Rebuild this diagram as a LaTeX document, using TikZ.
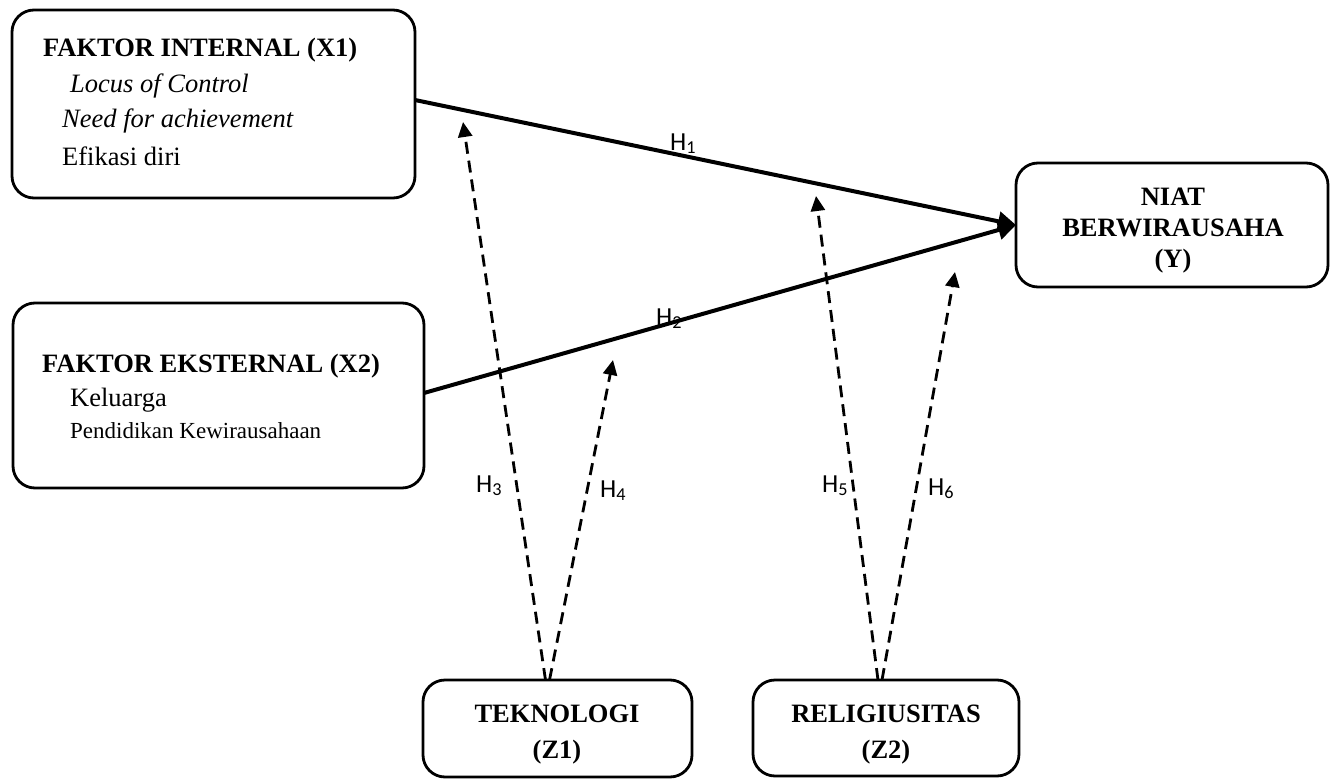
\documentclass[tikz,border=0pt]{standalone}
\usepackage{fontspec}
\setmainfont{Liberation Serif}
\newfontfamily\labfont{Carlito}
\usetikzlibrary{arrows.meta}
\tikzset{
  box/.style={draw, line width=2.8pt, rounded corners=22pt, inner sep=0pt, outer sep=0pt},
  txt/.style={inner sep=0pt, anchor=base west, font=\fontsize{26.5}{31}\selectfont},
  ctxt/.style={inner sep=0pt, anchor=base, font=\fontsize{26.5}{31}\selectfont\bfseries},
  hlab/.style={inner sep=0pt, anchor=base west, font=\labfont\fontsize{26}{30}\selectfont},
  solidarrow/.style={line width=4pt, -{Triangle[length=18pt,width=19pt]}},
  dasharrow/.style={line width=2.8pt, dash pattern=on 12pt off 7pt, -{Triangle[length=15pt,width=14pt]}}
}
\begin{document}
\begin{tikzpicture}[x=1pt,y=-1pt]
\useasboundingbox (0,0) rectangle (1331,781);
% boxes
\node[box, minimum width=403pt, minimum height=188pt] (x1) at (213.5,104) {};
\node[box, minimum width=411pt, minimum height=185pt] (x2) at (218.5,395.5) {};
\node[box, minimum width=312pt, minimum height=124pt] (y) at (1172,225) {};
\node[box, minimum width=269pt, minimum height=97pt] (z1) at (557.5,728.5) {};
\node[box, minimum width=266pt, minimum height=96pt] (z2) at (886,728) {};
% texts X1
\node[txt, font=\fontsize{26.5}{31}\selectfont\bfseries] (x1a) at (43,57) {FAKTOR INTERNAL (X1)};
\node[txt, font=\fontsize{26.5}{31}\selectfont\itshape] (x1b) at (70,93) {Locus of Control};
\node[txt, font=\fontsize{26.5}{31}\selectfont\itshape] (x1c) at (62,128) {Need for achievement};
\node[txt] (x1d) at (62,165) {Efikasi diri};
% texts X2
\node[txt, font=\fontsize{26.5}{31}\selectfont\bfseries] (x2a) at (42,372) {FAKTOR EKSTERNAL (X2)};
\node[txt] (x2b) at (70,406) {Keluarga};
\node[txt, font=\fontsize{23}{27}\selectfont] (x2c) at (70,438) {Pendidikan Kewirausahaan};
% texts Y
\node[ctxt] (ya) at (1173,205) {NIAT};
\node[ctxt] (yb) at (1173,236) {BERWIRAUSAHA};
\node[ctxt] (yc) at (1173,267) {(Y)};
% texts Z
\node[ctxt] (z1a) at (557,722) {TEKNOLOGI};
\node[ctxt] (z1b) at (557,758) {(Z1)};
\node[ctxt] (z2a) at (886,722) {RELIGIUSITAS};
\node[ctxt] (z2b) at (886,758) {(Z2)};
% free ends of moderating arrows
\coordinate (t3) at (463,122);
\coordinate (t4) at (613,360);
\coordinate (t5) at (816,196);
\coordinate (t6) at (955,272);
% main arrows
\draw[solidarrow] ([yshift=4pt]x1.east) -- (y.west);
\draw[solidarrow] ([yshift=2.5pt]x2.east) -- (y.west);
% dashed arrows
\draw[dasharrow] ([xshift=-12pt]z1.north) -- (t3);
\draw[dasharrow] ([xshift=-8pt]z1.north) -- (t4);
\draw[dasharrow] ([xshift=-8pt]z2.north) -- (t5);
\draw[dasharrow] ([xshift=-4pt]z2.north) -- (t6);
% labels
\node[hlab] (h1) at (670,150) {H\textsubscript{1}};
\node[hlab] (h2) at (656,325) {H\textsubscript{2}};
\node[hlab] (h3) at (476,492) {H\textsubscript{3}};
\node[hlab] (h4) at (600,497) {H\textsubscript{4}};
\node[hlab] (h5) at (822,492) {H\textsubscript{5}};
\node[hlab] (h6) at (928,495) {H\textsubscript{6}};
\end{tikzpicture}
\end{document}
